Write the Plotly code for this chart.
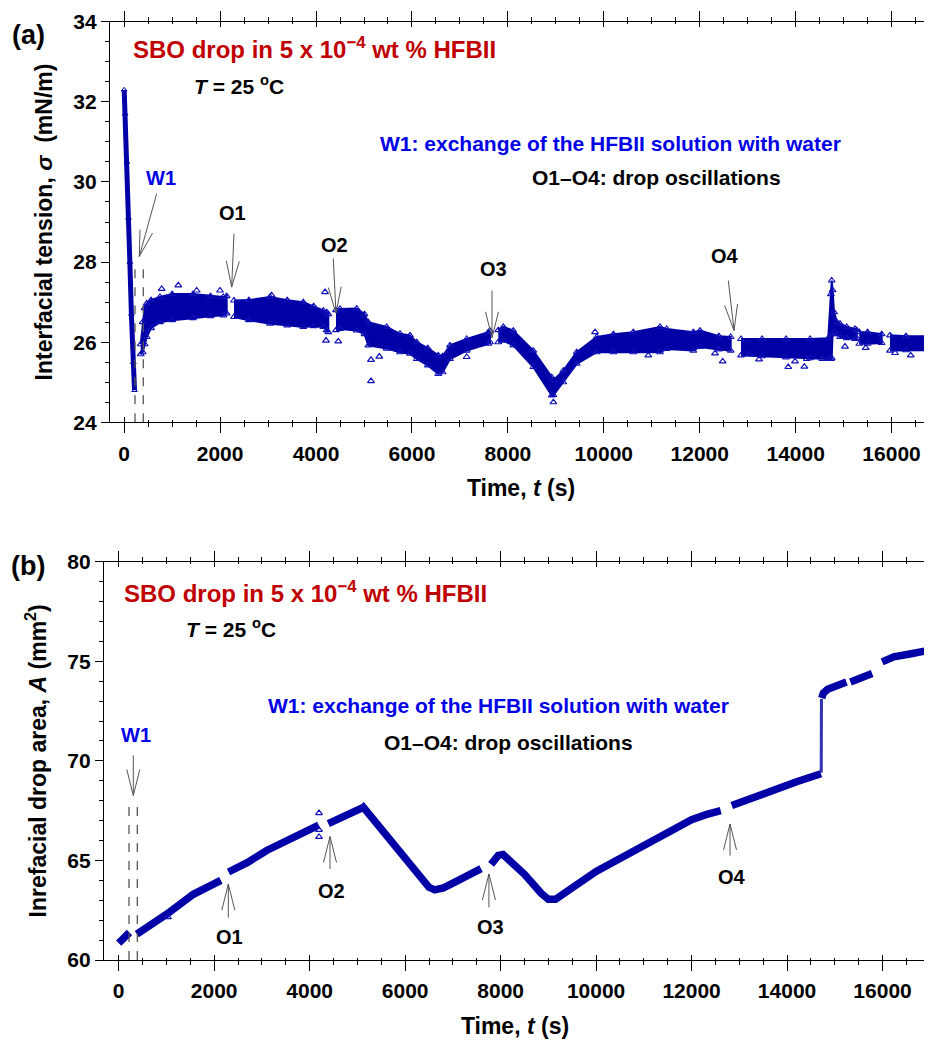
import math
import plotly.graph_objects as go

# ---------------- Panel (a): interfacial tension vs time ----------------
# initial decay before W1 (time s, sigma mN/m)
a0_t = [0, 20, 56, 90, 118, 150, 190, 215]
a0_s = [32.3, 31.7, 30.5, 29.1, 28.0, 26.7, 25.5, 24.8]

# dense point-cloud segments: time, upper edge, lower edge
a1_t = [345, 385, 425, 470, 560, 746, 1000, 1434, 1800, 2066, 2137]
a1_up = [25.95, 26.5, 26.85, 26.97, 27.05, 27.13, 27.2, 27.2, 27.15, 27.13, 27.15]
a1_lo = [25.7, 25.75, 25.95, 26.13, 26.35, 26.5, 26.55, 26.6, 26.65, 26.67, 26.72]

a2_t = [2289, 2600, 3040, 3400, 3734, 3950, 4151, 4220, 4256]
a2_up = [27.04, 27.05, 27.13, 27.05, 27.0, 26.9, 26.79, 26.75, 26.7]
a2_lo = [26.63, 26.55, 26.46, 26.42, 26.38, 26.4, 26.38, 26.3, 26.25]

a3_t = [4416, 4500, 4848, 5010, 5090, 5473, 5751, 5959, 6099, 6330, 6549, 6640, 6793, 7141, 7592, 7627]
a3_up = [26.8, 26.83, 26.84, 26.7, 26.5, 26.38, 26.21, 26.17, 26.0, 25.85, 25.67, 25.65, 25.92, 26.08, 26.25, 26.28]
a3_lo = [26.3, 26.33, 26.29, 26.2, 25.92, 25.84, 25.75, 25.71, 25.58, 25.42, 25.21, 25.25, 25.58, 25.79, 25.96, 26.0]

a4_t = [7800, 7905, 8113, 8530, 8914, 8950, 9155, 9435, 9852, 10200, 10615, 11172, 11311, 11866, 12006, 12400, 12646]
a4_up = [26.3, 26.38, 26.29, 25.79, 25.13, 25.05, 25.29, 25.75, 26.13, 26.2, 26.25, 26.38, 26.33, 26.25, 26.29, 26.15, 26.13]
a4_lo = [26.0, 26.04, 25.92, 25.38, 24.67, 24.68, 25.0, 25.46, 25.75, 25.75, 25.75, 25.75, 25.83, 25.79, 25.88, 25.82, 25.79]

a5_t = [12861, 13300, 13800, 14300, 14680, 14735, 14752, 14770, 14800, 14860, 14925, 15065, 15237, 15273]
a5_up = [26.08, 26.08, 26.08, 26.08, 26.1, 27.2, 27.54, 27.3, 26.75, 26.5, 26.46, 26.38, 26.33, 26.3]
a5_lo = [25.67, 25.65, 25.62, 25.6, 25.58, 25.58, 25.6, 26.2, 26.25, 26.2, 26.13, 26.1, 26.08, 26.1]

a6_t = [15327, 15500, 15794]
a6_up = [26.25, 26.25, 26.2]
a6_lo = [25.96, 25.96, 25.98]

a7_t = [15967, 16300, 16843, 17000]
a7_up = [26.17, 26.15, 26.15, 26.15]
a7_lo = [25.79, 25.8, 25.8, 25.8]

# scattered points outside the dense cloud
a_out_t = [782, 1128, 1512, 1997, 3075, 4187, 4208, 4464, 5146, 5319, 5146, 7141, 8948, 9817,
           10928, 12318, 12479, 13034, 13236, 13847, 13987, 14181, 14231, 14556, 15029, 15461,
           16072, 16399]
a_out_s = [27.33, 27.42, 27.29, 27.29, 27.17, 27.25, 26.04, 26.02, 25.56, 25.64, 25.03, 25.63, 24.5, 26.25,
           25.67, 25.72, 25.52, 25.71, 25.57, 25.38, 25.52, 25.39, 25.58, 25.58, 25.89, 25.86,
           25.73, 25.67]

# ---------------- Panel (b): drop area vs time ----------------
b1_t = [0, 110, 225]
b1_A = [60.85, 61.1, 61.38]
b2_t = [380, 700, 1005, 1563, 2140]
b2_A = [61.3, 61.8, 62.3, 63.3, 64.0]
b3_t = [2300, 2700, 3100, 3500, 3900, 4190]
b3_A = [64.42, 64.9, 65.5, 66.0, 66.45, 66.77]
b4_t = [4390, 4700, 5124, 5200, 5830, 6300, 6500, 6620, 6800, 7053, 7350, 7590]
b4_A = [66.85, 67.2, 67.67, 67.45, 65.65, 64.2, 63.65, 63.52, 63.62, 63.92, 64.25, 64.59]
b5_t = [7800, 7950, 8050, 8500, 8850, 9000, 9150, 9500, 10000, 10500, 11000, 11500, 12000, 12300, 12610]
b5_A = [64.8, 65.25, 65.3, 64.3, 63.35, 63.05, 63.05, 63.6, 64.45, 65.1, 65.75, 66.5, 67.05, 67.3, 67.5]
b6_t = [12841, 13571, 14200, 14710]
b6_A = [67.76, 68.45, 68.95, 69.35]
bj_t = [14715, 14720]
bj_A = [69.4, 73.1]
b7_t = [14725, 14760, 14850, 14980, 15244]
b7_A = [73.15, 73.4, 73.6, 73.72, 73.96]
b8_t = [15327, 15550, 15782]
b8_A = [73.96, 74.17, 74.38]
b9_t = [15992, 16235, 16600, 17000]
b9_A = [74.97, 75.22, 75.38, 75.56]
b_out_t = [1031, 4196, 4196, 4196, 5130]
b_out_A = [62.15, 67.38, 66.53, 66.18, 67.75]

# axis ticks
a_yticks = [24, 26, 28, 30, 32, 34]
b_yticks = [60, 65, 70, 75, 80]
x_ticks = [0, 2000, 4000, 6000, 8000, 10000, 12000, 14000, 16000]
x_ticktext = ["0", "2000", "4000", "6000", "8000", "10000", "12000", "14000", "16000"]

# ---------------- styling ----------------
FONT = "Liberation Sans"
DATA = "#0000a6"
EDGE = "#1010b8"
BLUE = "#0000e6"
RED = "#c00000"
GRAY = "#555555"

OFF = 8                 # page body margin of the html page
W, H = 932 - OFF, 1042 - OFF
ML = 104 - OFF
PW = W - ML
xa_rng = [-296, 16843]
xb_rng = [-308, 16910]
ya_rng = [24, 34]
yb_rng = [60, 80]


def fx(px):
    return (px - OFF - ML) / PW


def fy(py):
    return (H - (py - OFF)) / H


a_dom_x = [fx(110), 1.0]
b_dom_x = [0.0, fx(926)]
a_dom_y = [fy(422.3), fy(21.7)]
b_dom_y = [fy(960), fy(561.7)]

fig = go.Figure()

# panel a traces
fig.add_trace(go.Scatter(x=a0_t, y=a0_s, mode="lines+markers", xaxis="x", yaxis="y",
                         line=dict(color=DATA, width=5),
                         marker=dict(symbol="triangle-up-open", size=5, color=DATA, line=dict(width=1)),
                         showlegend=False, hoverinfo="skip"))
for t, up, lo in [(a1_t, a1_up, a1_lo), (a2_t, a2_up, a2_lo), (a3_t, a3_up, a3_lo),
                  (a4_t, a4_up, a4_lo), (a5_t, a5_up, a5_lo), (a6_t, a6_up, a6_lo),
                  (a7_t, a7_up, a7_lo)]:
    fig.add_trace(go.Scatter(x=t + t[::-1], y=up + lo[::-1], mode="lines", fill="toself",
                             fillcolor=DATA, line=dict(color=DATA, width=2),
                             xaxis="x", yaxis="y", showlegend=False, hoverinfo="skip"))
    fig.add_trace(go.Scatter(x=t + t, y=up + lo, mode="markers", xaxis="x", yaxis="y",
                             marker=dict(symbol="triangle-up-open", size=6, color=EDGE,
                                         line=dict(width=1.1)),
                             showlegend=False, hoverinfo="skip"))
fig.add_trace(go.Scatter(x=a_out_t, y=a_out_s, mode="markers", xaxis="x", yaxis="y",
                         marker=dict(symbol="triangle-up-open", size=6, color=EDGE, line=dict(width=1.2)),
                         showlegend=False, hoverinfo="skip"))

# panel b traces
for t, A in [(b1_t, b1_A), (b2_t, b2_A), (b3_t, b3_A), (b4_t, b4_A), (b5_t, b5_A),
             (b6_t, b6_A), (b7_t, b7_A), (b8_t, b8_A), (b9_t, b9_A)]:
    fig.add_trace(go.Scatter(x=t, y=A, mode="lines", xaxis="x2", yaxis="y2",
                             line=dict(color=DATA, width=7.5), showlegend=False, hoverinfo="skip"))
fig.add_trace(go.Scatter(x=bj_t, y=bj_A, mode="lines", xaxis="x2", yaxis="y2",
                         line=dict(color="#3030b0", width=3), showlegend=False, hoverinfo="skip"))
fig.add_trace(go.Scatter(x=b_out_t, y=b_out_A, mode="markers", xaxis="x2", yaxis="y2",
                         marker=dict(symbol="triangle-up-open", size=6, color=EDGE, line=dict(width=1.2)),
                         showlegend=False, hoverinfo="skip"))

# dummy traces for overlay tick axes
fig.add_trace(go.Scatter(x=[None], y=[None], xaxis="x3", yaxis="y", showlegend=False, hoverinfo="skip"))
fig.add_trace(go.Scatter(x=[None], y=[None], xaxis="x4", yaxis="y2", showlegend=False, hoverinfo="skip"))

tickfont = dict(family=FONT, size=21, color="black", weight="bold")
titlefont = dict(family=FONT, size=23, color="black", weight="bold")


def xaxis_main(dom, rng, anchor, title):
    return dict(domain=dom, range=rng, anchor=anchor, tickvals=x_ticks, ticktext=x_ticktext,
                ticks="outside", ticklen=10, automargin=False,
                tickwidth=1.2, tickcolor="black", showline=True, linecolor="black", linewidth=1.2,
                mirror="ticks", showgrid=False, zeroline=False, tickfont=tickfont,
                ticklabelstandoff=2,
                minor=dict(dtick=500, tick0=0, ticks="outside", ticklen=4, tickcolor="black", tickwidth=1),
                title=dict(text=title, font=titlefont, standoff=16))


def xaxis_over(over, rng, anchor):
    return dict(overlaying=over, range=rng, anchor=anchor, tickvals=x_ticks, ticks="inside", ticklen=5,
                tickwidth=1.2, tickcolor="black", showline=True, linecolor="black", linewidth=1.2,
                mirror="ticks", showgrid=False, zeroline=False, showticklabels=False, automargin=False,
                minor=dict(dtick=500, tick0=0, ticks="inside", ticklen=2, tickcolor="black", tickwidth=1))


def yaxis_main(dom, rng, anchor, vals, mdt, mirror, title):
    return dict(domain=dom, range=rng, anchor=anchor, tickvals=vals, ticks="outside", ticklen=8,
                tickwidth=1.2, tickcolor="black", showline=True, linecolor="black", linewidth=1.2,
                mirror=mirror, showgrid=False, zeroline=False, tickfont=tickfont, automargin=False,
                minor=dict(dtick=mdt, ticks="outside", ticklen=4, tickcolor="black", tickwidth=1),
                title=dict(text=title, font=titlefont, standoff=14))


fig.update_layout(
    width=W, height=H, margin=dict(l=ML, r=0, t=0, b=0, autoexpand=False),
    paper_bgcolor="white", plot_bgcolor="white", showlegend=False,
    xaxis=xaxis_main(a_dom_x, xa_rng, "y", "Time, <i>t</i> (s)"),
    yaxis=yaxis_main(a_dom_y, ya_rng, "x", a_yticks, 0.5, False,
                     "Interfacial tension, <i>σ</i>  (mN/m)"),
    xaxis2=xaxis_main(b_dom_x, xb_rng, "y2", "Time, <i>t</i> (s)"),
    yaxis2=yaxis_main(b_dom_y, yb_rng, "x2", b_yticks, 1, "ticks",
                      "Inrefacial drop area, <i>A</i> (mm<sup>2</sup>)"),
    xaxis3=xaxis_over("x", xa_rng, "y"),
    xaxis4=xaxis_over("x2", xb_rng, "y2"),
)

# ---------------- annotations ----------------
def txt(x, y, text, xref, yref, size=21, color="black", xanchor="center"):
    return dict(x=x, y=y, xref=xref, yref=yref, text=text, showarrow=False, xanchor=xanchor,
                yanchor="middle", font=dict(family=FONT, size=size, color=color, weight="bold"))

title_txt = "SBO drop in 5 x 10<sup>\u22124</sup> wt % HFBII"
T_txt = "<i>T</i> = 25 <sup>o</sup>C"
w1_txt = "W1: exchange of the HFBII solution with water"
osc_txt = "O1\u2013O4: drop oscillations"

annos = []
# panel labels, positioned in page pixels and converted to paper fractions
for label, px, py in [("(a)", 28, 35), ("(b)", 28, 566)]:
    annos.append(dict(x=fx(px), y=fy(py), xref="paper", yref="paper", text=label,
                      showarrow=False, xanchor="center", yanchor="middle",
                      font=dict(family=FONT, size=27, color="black", weight="bold")))

annos += [
    txt(144, 33.34, title_txt, "x", "y", size=24, color=RED, xanchor="left"),
    txt(2395, 32.42, T_txt, "x", "y", size=21),
    txt(10130, 30.97, w1_txt, "x", "y", size=21, color=BLUE),
    txt(11093, 30.11, osc_txt, "x", "y", size=21),
    txt(767, 30.09, "W1", "x", "y", size=20, color=BLUE),
    txt(2248, 29.22, "O1", "x", "y", size=20),
    txt(4395, 28.42, "O2", "x", "y", size=20),
    txt(7710, 27.82, "O3", "x", "y", size=20),
    txt(12527, 28.14, "O4", "x", "y", size=20),
    txt(63, 78.49, title_txt, "x2", "y2", size=24, color=RED, xanchor="left"),
    txt(2352, 76.65, T_txt, "x2", "y2", size=21),
    txt(7945, 72.79, w1_txt, "x2", "y2", size=21, color=BLUE),
    txt(8165, 70.93, osc_txt, "x2", "y2", size=21),
    txt(362, 71.28, "W1", "x2", "y2", size=20, color=BLUE),
    txt(2331, 61.14, "O1", "x2", "y2", size=20),
    txt(4457, 63.48, "O2", "x2", "y2", size=20),
    txt(7778, 61.67, "O3", "x2", "y2", size=20),
    txt(12847, 64.18, "O4", "x2", "y2", size=20),
]

# arrows: (tail_x, tail_y, tip_x, tip_y, panel)
arrows = [
    (678, 29.71, 315, 28.14, "a"),
    (2289, 28.71, 2241, 27.375, "a"),
    (4360, 28.09, 4416, 26.725, "a"),
    (7669, 27.29, 7669, 26.11, "a"),
    (12596, 27.54, 12715, 26.29, "a"),
    (306, 70.27, 306, 68.26, "b"),
    (2296, 62.13, 2296, 63.81, "b"),
    (4426, 64.57, 4426, 66.2, "b"),
    (7755, 62.64, 7755, 64.32, "b"),
    (12805, 65.24, 12805, 66.83, "b"),
]
scale = {
    "a": (PW * (a_dom_x[1] - a_dom_x[0]) / (xa_rng[1] - xa_rng[0]),
          H * (a_dom_y[1] - a_dom_y[0]) / (ya_rng[1] - ya_rng[0]), "x", "y"),
    "b": (PW * (b_dom_x[1] - b_dom_x[0]) / (xb_rng[1] - xb_rng[0]),
          H * (b_dom_y[1] - b_dom_y[0]) / (yb_rng[1] - yb_rng[0]), "x2", "y2"),
}
shapes = []
L_HEAD, W_HEAD = 26, 6.5
for tx, ty, hx, hy, p in arrows:
    sx, sy, xr, yr = scale[p]
    shapes.append(dict(type="line", xref=xr, yref=yr, x0=tx, y0=ty, x1=hx, y1=hy,
                       line=dict(color=GRAY, width=1)))
    dx, dy = (hx - tx) * sx, (hy - ty) * sy
    n = math.hypot(dx, dy)
    ux, uy = dx / n, dy / n
    px_, py_ = -uy, ux
    p1 = (-L_HEAD * ux + W_HEAD * px_, -L_HEAD * uy + W_HEAD * py_)
    p2 = (-L_HEAD * ux - W_HEAD * px_, -L_HEAD * uy - W_HEAD * py_)
    shapes.append(dict(type="path", xref=xr, yref=yr, xsizemode="pixel", ysizemode="pixel",
                       xanchor=hx, yanchor=hy,
                       path=f"M{p1[0]:.2f},{p1[1]:.2f} L0,0 L{p2[0]:.2f},{p2[1]:.2f}",
                       line=dict(color=GRAY, width=1)))

# dashed W1 markers
w1_lines = [(225, 24, 27.9, "x", "y"), (398, 24, 27.9, "x", "y"),
            (216, 60, 67.8, "x2", "y2"), (390, 60, 67.8, "x2", "y2")]
for xv, y0, y1, xr, yr in w1_lines:
    shapes.append(dict(type="line", xref=xr, yref=yr, x0=xv, x1=xv, y0=y0, y1=y1,
                       line=dict(color=GRAY, width=1.3, dash="dash")))

fig.update_layout(annotations=annos, shapes=shapes)
fig.write_html("out.html")
